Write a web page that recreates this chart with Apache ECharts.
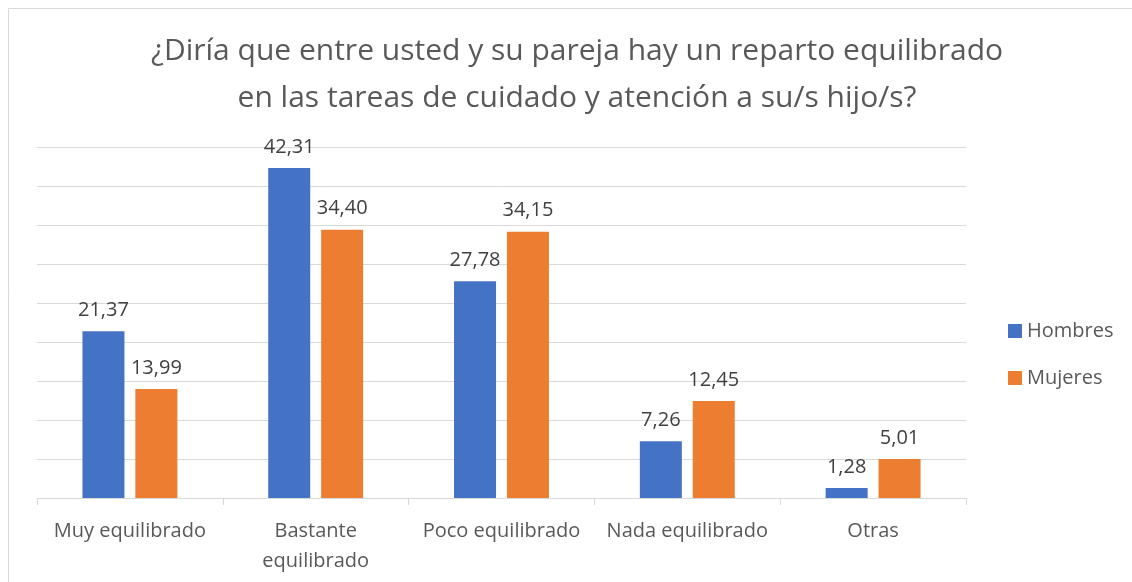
<html>
<head>
<meta charset="utf-8" />
<title>Reparto de tareas de cuidado</title>
<style>
	*{ margin: 0; padding: 0; }
	body{ background: #ffffff; overflow: hidden; }
	#chart_show{ width: 1132px; height: 582px; }
</style>
<script src="https://cdn.jsdelivr.net/npm/echarts@6/dist/echarts.min.js"></script>
</head>
<body>
<div id="chart_show"></div>
<script>
	// datos del grafico
	var categorias = ['Muy equilibrado', 'Bastante\nequilibrado', 'Poco equilibrado', 'Nada equilibrado', 'Otras'];
	var hombres = [21.37, 42.31, 27.78, 7.26, 1.28];
	var mujeres = [13.99, 34.40, 34.15, 12.45, 5.01];
	var nombres = ['Hombres', 'Mujeres'];

	var fuente = 'Open Sans';

	function etiqueta(p){
		return p.value.toFixed(2).replace('.', ',');
	}

	var oChart = echarts.init(document.getElementById('chart_show'));
	var chartopt = {
		backgroundColor: '#ffffff',
		animation: false,
		title: {
			text: '¿Diría que entre usted y su pareja hay un reparto equilibrado\nen las tareas de cuidado y atención a su/s hijo/s?',
			left: 572,
			textAlign: 'center',
			top: 23,
			textStyle: {
				fontFamily: fuente,
				fontSize: 30,
				fontWeight: 'normal',
				color: '#595959',
				lineHeight: 47
			}
		},
		graphic: [{
			type: 'rect',
			shape: { x: 8.5, y: 8.5, width: 1300, height: 800 },
			style: { fill: 'none', stroke: '#d9d9d9', lineWidth: 1 },
			silent: true
		}],
		legend: {
			data: nombres,
			orient: 'vertical',
			left: 1008,
			top: 321,
			padding: 0,
			itemWidth: 14,
			itemHeight: 14,
			itemGap: 27,
			icon: 'rect',
			textStyle: { fontFamily: fuente, fontSize: 20, color: '#595959' }
		},
		grid: { left: 37, right: 166, top: 147, bottom: 84 },
		xAxis: {
			type: 'category',
			data: categorias,
			axisLine: { lineStyle: { color: '#d9d9d9' } },
			axisTick: { show: true, length: 7, lineStyle: { color: '#d9d9d9' } },
			axisLabel: {
				fontFamily: fuente,
				fontSize: 20,
				color: '#595959',
				margin: 18,
				lineHeight: 30,
				interval: 0
			}
		},
		yAxis: {
			type: 'value',
			min: 0,
			max: 45,
			interval: 5,
			axisLabel: { show: false },
			axisLine: { show: false },
			axisTick: { show: false },
			splitLine: { lineStyle: { color: '#d9d9d9', width: 1 } }
		},
		series: [
			{
				name: nombres[0],
				type: 'bar',
				data: hombres,
				barWidth: 42,
				barGap: '26%',
				itemStyle: { color: '#4472c4' },
				label: {
					show: true,
					position: 'top',
					distance: 11,
					formatter: etiqueta,
					fontFamily: fuente,
					fontSize: 20,
					color: '#404040'
				}
			},
			{
				name: nombres[1],
				type: 'bar',
				data: mujeres,
				barWidth: 42,
				barGap: '26%',
				itemStyle: { color: '#ed7d31' },
				label: {
					show: true,
					position: 'top',
					distance: 11,
					formatter: etiqueta,
					fontFamily: fuente,
					fontSize: 20,
					color: '#404040'
				}
			}
		]
	};
	oChart.setOption(chartopt);
</script>
</body>
</html>
